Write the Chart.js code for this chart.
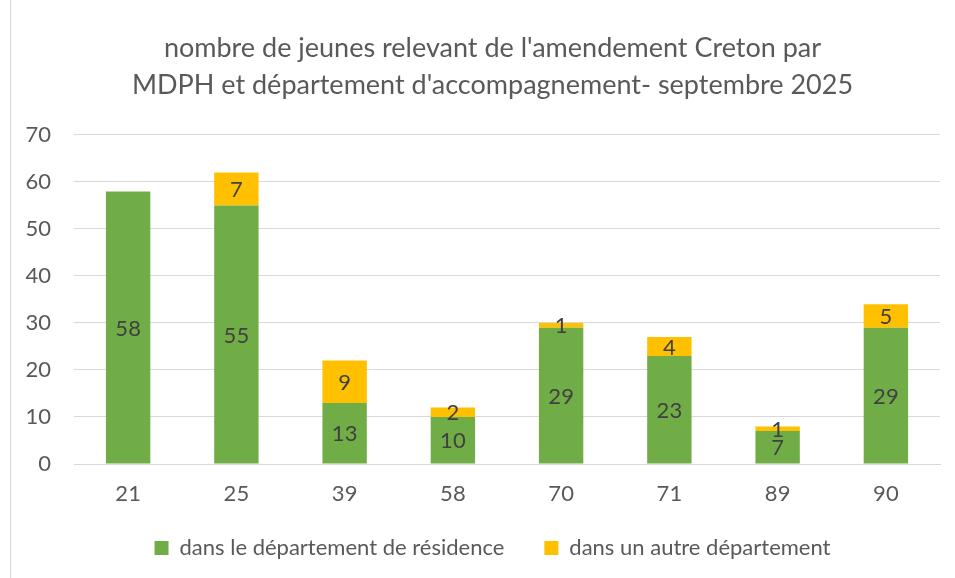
<!DOCTYPE html>
<html>
<head>
<meta charset="utf-8">
<script src="https://cdn.jsdelivr.net/npm/chart.js@4/dist/chart.umd.min.js"></script>
<style>
    html, body { margin: 0; padding: 0; background: #fff; }
    #wrap { position: relative; width: 955px; height: 578px; }
    #frame { position: absolute; left: 10px; top: 0; width: 1px; height: 578px; background: #d9d9d9; }
</style>
</head>
<body>
<div id="wrap">
    <canvas id="chart" width="955" height="578"></canvas>
    <div id="frame"></div>
</div>
<script>
const departements = ['21', '25', '39', '58', '70', '71', '89', '90'];
const dansResidence = [58, 55, 13, 10, 29, 23, 7, 29];
const autreDepartement = [null, 7, 9, 2, 1, 4, 1, 5];
const yTicks = [0, 10, 20, 30, 40, 50, 60, 70];

const FONT = 'Lato, "Open Sans", sans-serif';
const TEXT = '#595959';

// draws the value in the middle of each stacked segment
const segmentLabels = {
    id: 'segmentLabels',
    afterDatasetsDraw(chart) {
        const ctx = chart.ctx;
        ctx.save();
        ctx.font = '22px ' + FONT;
        ctx.fillStyle = '#404040';
        ctx.textAlign = 'center';
        ctx.textBaseline = 'middle';
        chart.data.datasets.forEach((ds, i) => {
            chart.getDatasetMeta(i).data.forEach((bar, j) => {
                const v = ds.data[j];
                if (v == null) return;
                ctx.fillText(v, bar.x, (bar.y + bar.base) / 2 + 1);
            });
        });
        ctx.restore();
    }
};

// axis labels drawn by hand: the scale boxes are squeezed for the layout and would clip them
const axisLabels = {
    id: 'axisLabels',
    afterDraw(chart) {
        const ctx = chart.ctx;
        const { x, y } = chart.scales;
        ctx.save();
        ctx.font = '22px ' + FONT;
        ctx.fillStyle = TEXT;
        ctx.textBaseline = 'middle';
        ctx.textAlign = 'right';
        yTicks.forEach(v => ctx.fillText(v, y.right - 23, y.getPixelForValue(v)));
        ctx.textAlign = 'center';
        departements.forEach((d, i) => ctx.fillText(d, x.getPixelForValue(i), x.top + 30));
        ctx.restore();
    }
};

new Chart(document.getElementById('chart'), {
    type: 'bar',
    data: {
        labels: departements,
        datasets: [
            { label: 'dans le département de résidence', data: dansResidence, backgroundColor: '#70AD47' },
            { label: 'dans un autre département', data: autreDepartement, backgroundColor: '#FFC000' }
        ]
    },
    options: {
        responsive: false,
        animation: false,
        layout: { padding: { left: 45, right: 15, top: 30, bottom: 9 } },
        datasets: { bar: { barPercentage: 0.41, categoryPercentage: 1 } },
        scales: {
            x: {
                stacked: true,
                afterFit: s => { s.height = 33; },
                grid: { display: false },
                border: { color: '#d9d9d9' },
                ticks: { display: false }
            },
            y: {
                stacked: true,
                min: 0,
                max: 70,
                afterFit: s => { s.width = 29; },
                afterBuildTicks: s => { s.ticks = yTicks.map(v => ({ value: v })); },
                grid: { color: '#d9d9d9', drawTicks: false },
                border: { display: false },
                ticks: { display: false }
            }
        },
        plugins: {
            title: {
                display: true,
                text: ["nombre de jeunes relevant de l'amendement Creton par", "MDPH et département d'accompagnement- septembre 2025"],
                color: TEXT,
                font: { family: FONT, size: 27, weight: 'normal', lineHeight: 1.37 },
                padding: { top: 0, bottom: 31 }
            },
            legend: {
                position: 'bottom',
                labels: {
                    color: TEXT,
                    font: { family: FONT, size: 22 },
                    boxWidth: 14,
                    boxHeight: 14,
                    padding: 40
                }
            },
            tooltip: { enabled: false }
        }
    },
    plugins: [segmentLabels, axisLabels]
});
</script>
</body>
</html>
